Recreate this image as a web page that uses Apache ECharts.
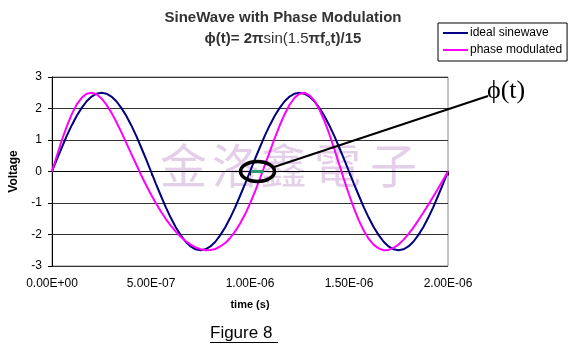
<!DOCTYPE html>
<html><head><meta charset="utf-8">
<script src="https://cdn.jsdelivr.net/npm/echarts@6/dist/echarts.min.js"></script>
<style>html,body{margin:0;padding:0;background:#fff}#c{width:575px;height:347px}</style>
</head><body><div id="c"></div>
<script>
const times = [0,2.5e-8,5e-8,7.5e-8,1e-7,1.25e-7,1.5e-7,1.75e-7,2e-7,2.25e-7,2.5e-7,2.75e-7,3e-7,3.25e-7,3.5e-7,3.75e-7,4e-7,4.25e-7,4.5e-7,4.75e-7,5e-7,5.25e-7,5.5e-7,5.75e-7,6e-7,6.25e-7,6.5e-7,6.75e-7,7e-7,7.25e-7,7.5e-7,7.75e-7,8e-7,8.25e-7,8.5e-7,8.75e-7,9e-7,9.25e-7,9.5e-7,9.75e-7,1e-6,1.025e-6,1.05e-6,1.075e-6,1.1e-6,1.125e-6,1.15e-6,1.175e-6,1.2e-6,1.225e-6,1.25e-6,1.275e-6,1.3e-6,1.325e-6,1.35e-6,1.375e-6,1.4e-6,1.425e-6,1.45e-6,1.475e-6,1.5e-6,1.525e-6,1.55e-6,1.575e-6,1.6e-6,1.625e-6,1.65e-6,1.675e-6,1.7e-6,1.725e-6,1.75e-6,1.775e-6,1.8e-6,1.825e-6,1.85e-6,1.875e-6,1.9e-6,1.925e-6,1.95e-6,1.975e-6,2e-6];
const idealSine = [0,0.39,0.77,1.14,1.47,1.77,2.02,2.23,2.38,2.47,2.5,2.47,2.38,2.23,2.02,1.77,1.47,1.14,0.77,0.39,0,-0.39,-0.77,-1.14,-1.47,-1.77,-2.02,-2.23,-2.38,-2.47,-2.5,-2.47,-2.38,-2.23,-2.02,-1.77,-1.47,-1.14,-0.77,-0.39,
 0,0.39,0.77,1.14,1.47,1.77,2.02,2.23,2.38,2.47,2.5,2.47,2.38,2.23,2.02,1.77,1.47,1.14,0.77,0.39,0,-0.39,-0.77,-1.14,-1.47,-1.77,-2.02,-2.23,-2.38,-2.47,-2.5,-2.47,-2.38,-2.23,-2.02,-1.77,-1.47,-1.14,-0.77,-0.39,0];
const phaseModulated = [0,0.51,1.00,1.44,1.82,2.13,2.34,2.47,2.50,2.45,2.32,2.12,1.87,1.57,1.25,0.91,0.57,0.23,-0.11,-0.43,-0.73,-1.01,-1.27,-1.51,-1.72,-1.91,-2.07,-2.21,-2.32,-2.41,-2.47,-2.50,-2.49,-2.46,-2.38,-2.27,-2.11,-1.90,-1.65,-1.36,
 -1.02,-0.64,-0.23,0.20,0.63,1.06,1.46,1.82,2.12,2.34,2.47,2.50,2.42,2.25,1.97,1.62,1.20,0.73,0.24,-0.26,-0.73,-1.17,-1.56,-1.88,-2.14,-2.33,-2.44,-2.50,-2.49,-2.42,-2.32,-2.17,-1.99,-1.78,-1.55,-1.31,-1.06,-0.80,-0.54,-0.27,0];
const xTickLabels = ['0.00E+00','5.00E-07','1.00E-06','1.50E-06','2.00E-06'];
const yTickLabels = ['-3','-2','-1','0','1','2','3'];
const seriesNames = ['ideal sinewave','phase modulated'];
const watermarkChars = ['金','洛','鑫','電','子'];

const chart = echarts.init(document.getElementById('c'), null, {renderer:'canvas'});
const F = '"Liberation Sans", Arial, sans-serif';
chart.setOption({
  animation:false,
  backgroundColor:'#fff',
  title:{
    text:'SineWave with Phase Modulation',
    subtext:'{b|ϕ(t)= 2π}{r|sin(1.5}{b|πf}{s|o}{b|t)/15}',
    left:278, textAlign:'center', top:4, itemGap:3,
    textStyle:{fontFamily:F,fontSize:15,fontWeight:'bold',color:'#333',lineHeight:18},
    subtextStyle:{fontFamily:F,fontSize:15,color:'#333',lineHeight:18,
      rich:{b:{fontFamily:F,fontSize:15,fontWeight:'bold',color:'#333'},
            r:{fontFamily:F,fontSize:15,color:'#333'},
            s:{fontFamily:F,fontSize:9,fontWeight:'bold',color:'#333',verticalAlign:'bottom',padding:[7,0,0,0]}}}
  },
  legend:{
    orient:'vertical', left:438, top:23,
    borderColor:'#000', borderWidth:1, padding:[4,5,5,5], itemGap:5,
    itemWidth:25, itemHeight:2, icon:'rect',
    textStyle:{fontFamily:F,fontSize:12,color:'#000',padding:[0,0,0,-3]},
    data:seriesNames
  },
  grid:{left:50,right:127,top:77,bottom:81,show:true,borderColor:'#888',borderWidth:1},
  xAxis:{
    type:'value', min:0, max:2e-6, interval:5e-7,
    name:'time (s)', nameLocation:'middle', nameGap:33,
    nameTextStyle:{fontFamily:F,fontSize:11,fontWeight:'bold',color:'#000'},
    axisLine:{show:true,lineStyle:{color:'#000',width:1}},
    axisTick:{show:true,length:4,lineStyle:{color:'#000'}},
    splitLine:{show:false},
    axisLabel:{fontFamily:F,fontSize:12,color:'#000',margin:12,
      formatter:(v,i)=>xTickLabels[i]}
  },
  yAxis:{
    type:'value', min:-3, max:3, interval:1,
    name:'Voltage', nameLocation:'middle', nameGap:32,
    nameTextStyle:{fontFamily:F,fontSize:12,fontWeight:'bold',color:'#000'},
    axisLine:{show:true,lineStyle:{color:'#000',width:1}},
    axisTick:{show:true,length:4,lineStyle:{color:'#000'}},
    splitLine:{show:true,lineStyle:{color:'#333',width:1}},
    axisLabel:{fontFamily:F,fontSize:12,color:'#000',margin:10,
      formatter:(v,i)=>yTickLabels[i]}
  },
  series:[
    {name:seriesNames[0],type:'line',showSymbol:false,symbol:'none',
     lineStyle:{color:'#000080',width:2},itemStyle:{color:'#000080'},z:3,
     data:times.map((t,i)=>[t,idealSine[i]])},
    {name:seriesNames[1],type:'line',showSymbol:false,symbol:'none',
     lineStyle:{color:'#ff00ff',width:2},itemStyle:{color:'#ff00ff'},z:4,
     data:times.map((t,i)=>[t,phaseModulated[i]])}
  ]
});

function drawAnnot(){
  const c = chart.convertToPixel({gridIndex:0},[1.038e-6,0]);
  const g0 = chart.convertToPixel({gridIndex:0},[1.0e-6,0]);
  const g1 = chart.convertToPixel({gridIndex:0},[1.067e-6,0]);
  const els = [];
  const wmX = [163,215,263,317,373];
  watermarkChars.forEach((ch,i)=>{
    els.push({type:'text',z:-1,left:wmX[i]-3,top:142,silent:true,
      style:{text:ch,fontFamily:'"Noto Sans CJK TC","Noto Sans CJK SC",serif',fontSize:47,fill:'rgba(200,160,210,0.5)'}});
  });
  els.push({type:'line',z:10,shape:{x1:g0[0]+1,y1:g0[1],x2:g1[0],y2:g1[1]},style:{stroke:'#2e9a6a',lineWidth:3}});
  els.push({type:'ellipse',z:11,shape:{cx:c[0],cy:c[1],rx:17,ry:10},style:{fill:'none',stroke:'#000',lineWidth:3.5}});
  els.push({type:'line',z:11,shape:{x1:c[0]+15,y1:c[1]-4,x2:488,y2:96},style:{stroke:'#000',lineWidth:2}});
  els.push({type:'text',z:11,left:487,top:78,style:{text:'ϕ(t)',fontFamily:'"Liberation Serif","DejaVu Serif",serif',fontSize:26,fill:'#000'}});
  els.push({type:'text',z:11,left:210,top:325,style:{text:'Figure 8',fontFamily:F,fontSize:17,fill:'#000'}});
  els.push({type:'line',z:11,shape:{x1:210,y1:342.5,x2:278,y2:342.5},style:{stroke:'#000',lineWidth:1}});
  chart.setOption({graphic:{elements:els}});
}
drawAnnot();
</script></body></html>
